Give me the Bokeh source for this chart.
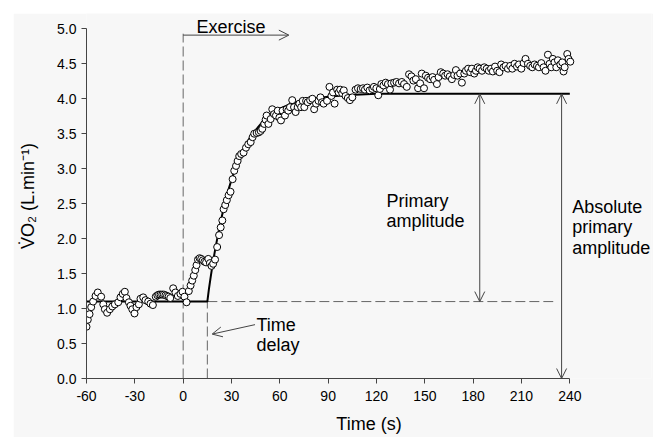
from bokeh.plotting import figure
from bokeh.models import Arrow, OpenHead, FixedTicker
from bokeh.core.properties import value
from bokeh.embed import file_html
from bokeh.resources import INLINE

# ---- data ----
time_s = [-60, -59.2, -58.1, -57.1, -55.9, -54.4, -53, -50.9, -49.6, -48.6, -47.2, -45.5, -44, -42.4,
          -40.3, -38.9, -37.5, -36.2, -35.2, -33.7, -32.7, -31.6, -30.2, -29, -27.5, -26.5, -24.8,
          -23.4, -21.7, -20.3, -18.8, -17, -16, -15, -14, -13, -12, -11, -10, -9, -8, -6.2, -4.8,
          -3.3, -1.7, -0.4, 0.8, 2.1, 3.5, 4.6, 5.6, 6.6, 7.5, 8.3, 9.2, 10.2, 11.2, 12.2, 13.2,
          14.2, 15.6, 16.6, 17.6, 18.6, 19.8, 21.1, 22.3, 23.3, 24.3, 25.1, 26.1, 27.1, 28.2, 29.4,
          30.7, 31.7, 32.8, 33.8, 34.8, 36.0, 37.5, 39, 40.4, 41.9, 43.1, 44.1, 45.6, 47, 48.1, 49.1,
          50.3, 51.2, 51.8, 52.9, 54.3, 55.3, 56.4, 57.6, 58.7, 59.7, 60.7, 61.7, 63.2, 64.2, 65.2,
          66.3, 67.7, 68.8, 69.8, 71.1, 72.1, 73.2, 74.2, 75.2, 76.3, 77.3, 78.8, 80.2, 81.3, 82.5,
          84, 85.2, 86.2, 87.2, 89.3, 90.8, 92, 93, 94, 95.6, 96.5, 97.5, 98.7, 99.7, 100.8, 102.2,
          103.5, 105, 107, 108.5, 110.2, 111.6, 112.8, 114.3, 115.7, 117.4, 118.4, 119.9, 121.1,
          122.1, 123, 124.3, 125.7, 127.1, 128.4, 129.2, 130.9, 132.4, 134, 135.7, 137.1, 138.8,
          140.2, 141.7, 142.9, 144.4, 145.8, 147.1, 148.1, 149.5, 150.6, 152, 153.3, 154.8, 155.8,
          157.5, 158.5, 159.9, 161.4, 162.6, 164.1, 165.5, 166.8, 168.2, 169.3, 170.3, 171.9, 173,
          174.5, 175.5, 176.9, 178.2, 179.2, 180.7, 181.7, 182.8, 184, 185.5, 186.9, 188.4, 189.7,
          191.1, 192.2, 193.6, 194.9, 196.3, 197.4, 198.8, 200.1, 201.6, 203, 204.3, 205.7, 207.2,
          208.4, 209.9, 211.3, 212.5, 214, 215.4, 216.7, 218.1, 219.6, 220.8, 222.3, 223.7, 224.9,
          226.4, 227.4, 228.5, 229.5, 230.5, 231.6, 232.6, 234.1, 235.3, 236.1, 236.8, 238.4, 239.2,
          240.3]
vo2 = [0.74, 0.84, 0.92, 1.02, 1.10, 1.18, 1.23, 1.17, 1.06, 0.99, 0.94, 0.99, 1.03, 1.06,
       1.09, 1.16, 1.21, 1.24, 1.15, 1.09, 1.04, 0.99, 0.93, 1.02, 1.06, 1.14, 1.16,
       1.12, 1.10, 1.07, 1.05, 1.17, 1.19, 1.20, 1.20, 1.20, 1.20, 1.19, 1.18, 1.17, 1.15, 1.29, 1.23,
       1.18, 1.21, 1.24, 1.17, 1.09, 1.25, 1.33, 1.40, 1.47, 1.55, 1.62, 1.70, 1.72, 1.71, 1.69, 1.67,
       1.66, 1.71, 1.65, 1.61, 1.64, 1.70, 1.88, 2.05, 2.16, 2.26, 2.42, 2.48, 2.55, 2.62, 2.67,
       2.85, 2.97, 3.04, 3.11, 3.18, 3.21, 3.23, 3.30, 3.35, 3.38, 3.45, 3.50, 3.51, 3.52, 3.54, 3.57,
       3.64, 3.70, 3.76, 3.64, 3.71, 3.85, 3.78, 3.76, 3.83, 3.73, 3.69, 3.83, 3.76, 3.85, 3.83,
       3.88, 3.98, 3.88, 3.81, 3.88, 3.93, 3.88, 3.97, 3.88, 3.97, 3.95, 3.98, 4.00, 3.85, 3.93,
       3.97, 4.02, 3.95, 3.93, 3.97, 4.17, 4.04, 4.09, 3.93, 4.13, 4.09, 4.13, 4.08, 4.12, 4.04, 4.01,
       3.98, 4.02, 4.13, 4.15, 4.14, 4.15, 4.13, 4.16, 4.12, 4.14, 4.17, 4.15, 4.05,
       4.14, 4.21, 4.19, 4.23, 4.21, 4.13, 4.22, 4.23, 4.24, 4.22, 4.24, 4.21, 4.17,
       4.35, 4.32, 4.26, 4.28, 4.15, 4.22, 4.36, 4.15, 4.33, 4.30, 4.28, 4.31, 4.27,
       4.21, 4.31, 4.38, 4.36, 4.33, 4.35, 4.32, 4.28, 4.34, 4.41, 4.33, 4.36, 4.23,
       4.36, 4.40, 4.43, 4.38, 4.43, 4.36, 4.40, 4.45, 4.43, 4.40, 4.45, 4.43, 4.40,
       4.43, 4.39, 4.46, 4.40, 4.38, 4.49, 4.45, 4.47, 4.43, 4.47, 4.43, 4.50, 4.46,
       4.49, 4.43, 4.51, 4.57, 4.50, 4.47, 4.45, 4.49, 4.47, 4.45, 4.51, 4.45, 4.40,
       4.63, 4.50, 4.45, 4.57, 4.52, 4.45, 4.55, 4.49, 4.52, 4.39, 4.45, 4.64, 4.57,
       4.53]

fit_t = [-60, 15, 16, 17, 18, 19, 20, 22, 24, 26, 28, 30, 32, 34, 36, 38, 40, 43, 46, 50, 55, 60,
         65, 70, 80, 90, 100, 110, 120, 240]
fit_v = [1.10, 1.10, 1.28, 1.44, 1.59, 1.73, 1.86, 2.10, 2.32, 2.51, 2.69, 2.84, 2.98, 3.10, 3.21,
         3.30, 3.39, 3.50, 3.58, 3.69, 3.79, 3.86, 3.91, 3.95, 4.00, 4.03, 4.05, 4.06, 4.07, 4.07]

x_ticks = [-60, -30, 0, 30, 60, 90, 120, 150, 180, 210, 240]
x_tick_labels = ["-60", "-30", "0", "30", "60", "90", "120", "150", "180", "210", "240"]
y_ticks = [0.0, 0.5, 1.0, 1.5, 2.0, 2.5, 3.0, 3.5, 4.0, 4.5, 5.0]
y_tick_labels = ["0.0", "0.5", "1.0", "1.5", "2.0", "2.5", "3.0", "3.5", "4.0", "4.5", "5.0"]

exercise_start = 0
time_delay = 15
baseline = 1.10
end_amplitude = 4.07

FONT = "Liberation Sans"
BG = "#f7f7f7"

p = figure(width=640, height=424, margin=(13, 13, 0, 13),
           x_range=(-60, 290.7), y_range=(0, 5.219),
           output_backend="svg", toolbar_location=None,
           min_border_left=73, min_border_right=2, min_border_top=0, min_border_bottom=59,
           background_fill_color=BG, border_fill_color=BG, outline_line_color=None)
p.grid.visible = False

for ax in (p.xaxis[0], p.yaxis[0]):
    ax.axis_line_color = "#444444"
    ax.major_tick_line_color = "#444444"
    ax.major_tick_out = 5
    ax.major_tick_in = 0
    ax.minor_tick_line_color = None
    ax.major_label_text_font = FONT
    ax.major_label_text_font_size = "14px"
    ax.major_label_text_color = "black"
    ax.axis_label_text_font = FONT
    ax.axis_label_text_font_size = "18px"
    ax.axis_label_text_font_style = "normal"
    ax.axis_label_text_color = "black"

p.xaxis.ticker = FixedTicker(ticks=x_ticks)
p.xaxis.major_label_overrides = {t: s for t, s in zip(x_ticks, x_tick_labels)}
p.xaxis.bounds = (x_ticks[0], x_ticks[-1])
p.xaxis.axis_label = "Time (s)"
p.xaxis.major_label_standoff = 7
p.xaxis.axis_label_standoff = 10

p.yaxis.ticker = FixedTicker(ticks=y_ticks)
p.yaxis.major_label_overrides = {t: s for t, s in zip(y_ticks, y_tick_labels)}
p.yaxis.bounds = (y_ticks[0], y_ticks[-1])
p.yaxis.axis_label = "V\u0307O\u2082 (L.min\u207b\u00b9)"
p.yaxis.major_label_standoff = 5
p.yaxis.axis_label_standoff = 16

GUIDE = "#666666"
# dashed guides
p.segment(x0=[exercise_start, time_delay, time_delay], y0=[0, 0, baseline],
          x1=[exercise_start, time_delay, 229.7], y1=[4.93, baseline, baseline],
          line_color=GUIDE, line_width=1, line_dash="10 4")

# fitted model line
p.line(fit_t, fit_v, line_color="black", line_width=2)

# breath-by-breath data
p.scatter(time_s, vo2, size=7, marker="circle", fill_color="white",
          line_color="black", line_width=1)

ARW = "#444444"
def head():
    return OpenHead(size=10, line_color=ARW, line_width=1)

p.add_layout(Arrow(end=head(), x_start=exercise_start, y_start=4.91, x_end=65.6, y_end=4.91,
                   line_color=ARW, line_width=1))
p.add_layout(Arrow(end=head(), x_start=44.6, y_start=0.77, x_end=18, y_end=0.635,
                   line_color=ARW, line_width=1))
p.add_layout(Arrow(start=head(), end=head(), x_start=184.1, y_start=baseline,
                   x_end=184.1, y_end=end_amplitude, line_color=ARW, line_width=1))
p.add_layout(Arrow(start=head(), end=head(), x_start=234.9, y_start=0,
                   x_end=234.9, y_end=end_amplitude, line_color=ARW, line_width=1))

ann_text = ["Exercise", "Time", "delay", "Primary", "amplitude", "Absolute", "primary", "amplitude"]
ann_x = [8.3, 45.5, 45.5, 126.2, 126.2, 241.5, 241.5, 241.5]
ann_y = [5.02, 0.77, 0.48, 2.54, 2.25, 2.45, 2.16, 1.87]
p.text(x=ann_x, y=ann_y, text=ann_text, text_font=value(FONT), text_font_size="18px",
       text_align="left", text_baseline="alphabetic", text_color="black")

open("out.html", "w").write(file_html(p, INLINE))
